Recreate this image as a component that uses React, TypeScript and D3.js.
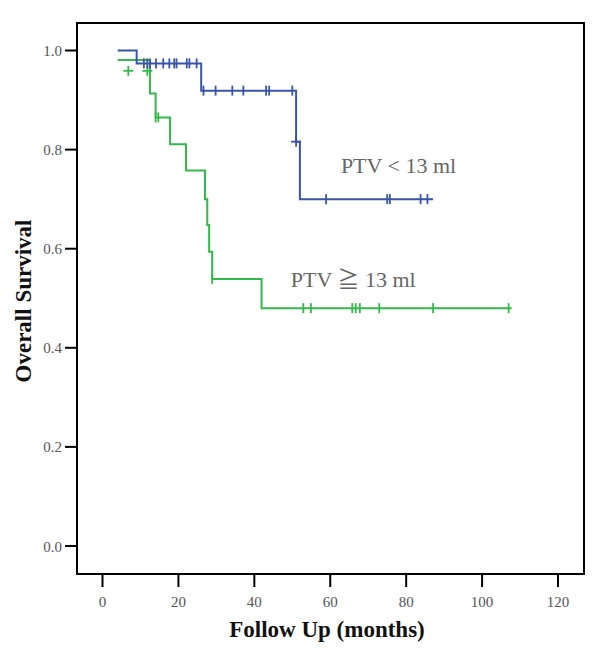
import React from "react";
import * as d3 from "d3";

// ---- data ----
const xTicks = [0, 20, 40, 60, 80, 100, 120];
const yTicks = [0.0, 0.2, 0.4, 0.6, 0.8, 1.0];

// PTV < 13 ml (blue)
const lowTimes = [4, 9, 26, 51, 52];
const lowSurv = [1.0, 0.974, 0.919, 0.816, 0.70];
const lowEnd = 87.1;
const lowCensorT = [10.9, 11.8, 12.5, 14.1, 16.0, 17.6, 18.9, 19.5, 22.2, 22.9, 24.8,
  26.6, 29.8, 34.2, 37.1, 43.1, 43.9, 50.0,
  58.9, 75.0, 75.7, 83.8, 85.6];
const lowCensorS = [0.974, 0.974, 0.974, 0.974, 0.974, 0.974, 0.974, 0.974, 0.974, 0.974, 0.974,
  0.919, 0.919, 0.919, 0.919, 0.919, 0.919, 0.919,
  0.70, 0.70, 0.70, 0.70, 0.70];
const lowCrossT = [51.0];
const lowCrossS = [0.816];

// PTV >= 13 ml (green)
const highTimes = [4, 12.5, 14.0, 17.8, 22.0, 27.0, 27.6, 28.1, 28.9, 41.9];
const highSurv = [0.981, 0.913, 0.865, 0.811, 0.758, 0.700, 0.648, 0.594, 0.539, 0.480];
const highEnd = 107.8;
const highCensorT = [14.0, 14.7, 28.9, 52.9, 54.9, 65.8, 66.7, 67.8, 72.9, 87.1, 107.0];
const highCensorS = [0.865, 0.865, 0.539, 0.48, 0.48, 0.48, 0.48, 0.48, 0.48, 0.48, 0.48];
const highCrossT = [6.8, 11.8];
const highCrossS = [0.959, 0.959];

const labelTexts = ["PTV < 13 ml", "PTV \u2267 13 ml"];
const labelT = [62.8, 49.6];
const labelS = [0.753, 0.523];

const BLUE = "#3b55a6";
const GREEN = "#33b94a";

function stepPath(x: d3.ScaleLinear<number, number>, y: d3.ScaleLinear<number, number>, times: number[], surv: number[], end: number) {
  const pts: [number, number][] = [];
  times.forEach((t, i) => {
    if (i > 0) pts.push([t, surv[i - 1]]);
    pts.push([t, surv[i]]);
  });
  pts.push([end, surv[surv.length - 1]]);
  return d3.line<[number, number]>().x(d => x(d[0])).y(d => y(d[1]))(pts) || "";
}

export default function App() {
  const left = 77, right = 584, top = 23, bottom = 574;
  const x = d3.scaleLinear().domain([0, 120]).range([102.5, 558]);
  const y = d3.scaleLinear().domain([0, 1]).range([546, 50.5]);
  const serif = "'Liberation Serif', 'Times New Roman', 'Noto Sans CJK TC', serif";

  const censor = (ts: number[], ss: number[], color: string) =>
    ts.map((t, i) => (
      <line key={i} x1={x(t)} x2={x(t)} y1={y(ss[i]) - 5} y2={y(ss[i]) + 5} stroke={color} strokeWidth={1.8} />
    ));
  const cross = (ts: number[], ss: number[], color: string) =>
    ts.map((t, i) => (
      <g key={i}>
        <line x1={x(t) - 5} x2={x(t) + 5} y1={y(ss[i])} y2={y(ss[i])} stroke={color} strokeWidth={1.8} />
        <line x1={x(t)} x2={x(t)} y1={y(ss[i]) - 5} y2={y(ss[i]) + 5} stroke={color} strokeWidth={1.8} />
      </g>
    ));

  return (
    <svg width={600} height={656} style={{ position: "absolute", left: 0, top: 0, background: "#fff" }}>
      <rect x={0} y={0} width={600} height={656} fill="#fff" />
      {/* curves */}
      <path d={stepPath(x, y, highTimes, highSurv, highEnd)} fill="none" stroke={GREEN} strokeWidth={2} />
      {censor(highCensorT, highCensorS, GREEN)}
      {cross(highCrossT, highCrossS, GREEN)}
      <path d={stepPath(x, y, lowTimes, lowSurv, lowEnd)} fill="none" stroke={BLUE} strokeWidth={2} />
      {censor(lowCensorT, lowCensorS, BLUE)}
      {cross(lowCrossT, lowCrossS, BLUE)}

      {/* frame */}
      <rect x={left} y={top} width={right - left} height={bottom - top} fill="none" stroke="#000" strokeWidth={2} />

      {/* y axis */}
      {yTicks.map(v => (
        <g key={v}>
          <line x1={65} x2={left} y1={y(v)} y2={y(v)} stroke="#000" strokeWidth={2} />
          <text x={62} y={y(v) + 5.5} textAnchor="end" fontFamily={serif} fontSize={15} fill="#555">{v.toFixed(1)}</text>
        </g>
      ))}
      {/* x axis */}
      {xTicks.map(v => (
        <g key={v}>
          <line x1={x(v)} x2={x(v)} y1={bottom} y2={587} stroke="#000" strokeWidth={2} />
          <text x={x(v)} y={606.5} textAnchor="middle" fontFamily={serif} fontSize={15} fill="#555">{v}</text>
        </g>
      ))}

      {/* labels */}
      <text x={327} y={637} textAnchor="middle" fontFamily={serif} fontSize={23} fontWeight="bold" fill="#111">Follow Up (months)</text>
      <text transform="translate(31,301) rotate(-90)" textAnchor="middle" fontFamily={serif} fontSize={23} fontWeight="bold" fill="#111">Overall Survival</text>

      {labelTexts.map((s, i) => (
        <text key={i} x={x(labelT[i])} y={y(labelS[i])} fontFamily={serif} fontSize={22} fill="#666">{s}</text>
      ))}
    </svg>
  );
}
